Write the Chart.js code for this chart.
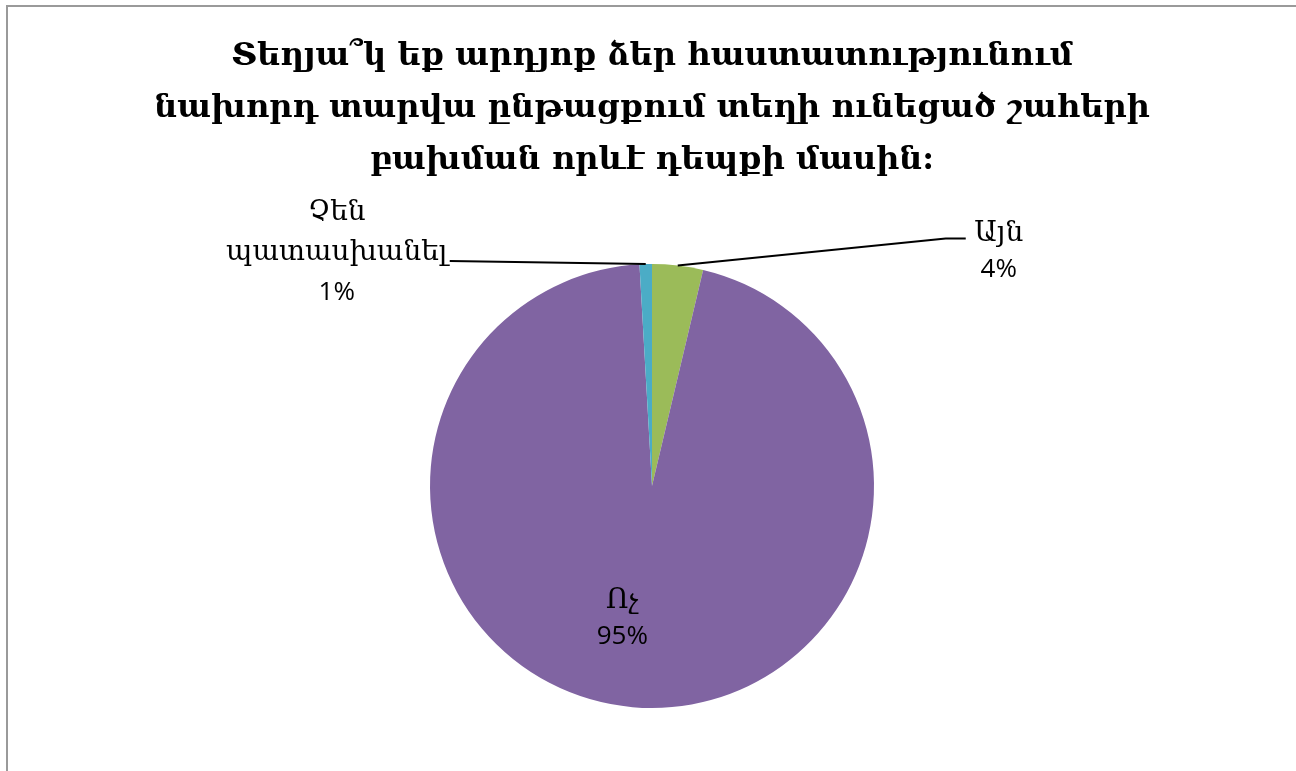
<!DOCTYPE html>
<html>
<head>
<meta charset="utf-8">
<script src="https://cdn.jsdelivr.net/npm/chart.js@4"></script>
<style>
  body { margin: 0; background: #fff; overflow: hidden; }
  canvas { display: block; }
</style>
</head>
<body>
<canvas id="myPieChart" width="1296" height="771"></canvas>
<script>
// data
var nombres = ['Այն', 'Ոչ', 'Չեն պատասխանել'];
var cantidades = [3.7, 95.4, 0.9];
var colores = ['#9BBB59', '#8064A2', '#4BACC6'];
var titulo = [
    'Տեղյա՞կ եք արդյոք ձեր հաստատությունում',
    'նախորդ տարվա ընթացքում տեղի ունեցած շահերի',
    'բախման որևէ դեպքի մասին:'
];

var fuenteArm = '"DejaVu Serif", serif';
var fuenteNum = '"Open Sans", "Noto Sans", sans-serif';

// where each label goes, relative to the slice
var posiciones = [
    { tipo: 'fuera', dx: 268, dy: -27, cola: 20, cx: 33, l1: -5, paso: 36 },
    { tipo: 'dentro', r: 0.6, dx: -18, dy: -18, paso: 36 },
    { tipo: 'fuera', dx: -196, dy: -3, cola: 0, cx: -113, l1: -48, paso: 40 }
];

var marco = {
    id: 'marco',
    beforeDraw: function(chart) {
        var c = chart.ctx;
        c.save();
        c.strokeStyle = '#9a9a9a';
        c.lineWidth = 2;
        c.beginPath();
        c.moveTo(7, 900);
        c.lineTo(7, 6);
        c.lineTo(1400, 6);
        c.stroke();
        c.restore();
    }
};

var etiquetas = {
    id: 'etiquetas',
    afterDatasetsDraw: function(chart) {
        var c = chart.ctx;
        var total = cantidades.reduce(function(a, b) { return a + b; }, 0);
        var arcos = chart.getDatasetMeta(0).data;
        c.save();
        c.fillStyle = '#000';
        c.textAlign = 'center';
        c.textBaseline = 'middle';
        arcos.forEach(function(arc, i) {
            var p = posiciones[i];
            var medio = (arc.startAngle + arc.endAngle) / 2;
            var lineas = nombres[i].split(' ');
            var pct = Math.round(cantidades[i] / total * 100) + '%';
            var bx, by;
            if (p.tipo === 'fuera') {
                var ax = arc.x + Math.cos(medio) * arc.outerRadius;
                var ay = arc.y + Math.sin(medio) * arc.outerRadius;
                var ex = ax + p.dx, ey = ay + p.dy;
                c.strokeStyle = '#000';
                c.lineWidth = 2;
                c.beginPath();
                c.moveTo(ax, ay);
                c.lineTo(ex, ey);
                if (p.cola) c.lineTo(ex + p.cola, ey);
                c.stroke();
                bx = ex + p.cola + p.cx;
                by = ey + p.l1;
            } else {
                bx = arc.x + Math.cos(medio) * arc.outerRadius * p.r + p.dx;
                by = arc.y + Math.sin(medio) * arc.outerRadius * p.r + p.dy;
            }
            c.font = '28px ' + fuenteArm;
            lineas.forEach(function(t, k) {
                c.fillText(t, bx, by + k * p.paso);
            });
            c.font = '26px ' + fuenteNum;
            c.fillText(pct, bx, by + lineas.length * p.paso);
        });
        c.restore();
    }
};

var ctx = document.getElementById('myPieChart').getContext('2d');
var myChart = new Chart(ctx, {
    type: 'pie',
    data: {
        labels: nombres,
        datasets: [{
            data: cantidades,
            backgroundColor: colores,
            borderWidth: 0
        }]
    },
    options: {
        responsive: false,
        animation: false,
        layout: {
            padding: { left: 8, right: 0, top: 0, bottom: 63 }
        },
        plugins: {
            legend: { display: false },
            tooltip: { enabled: false },
            title: {
                display: true,
                text: titulo,
                color: '#000',
                font: { family: fuenteArm, size: 32, weight: 'bold', lineHeight: 1.625 },
                padding: { top: 31, bottom: 77 }
            }
        }
    },
    plugins: [marco, etiquetas]
});
</script>
</body>
</html>
